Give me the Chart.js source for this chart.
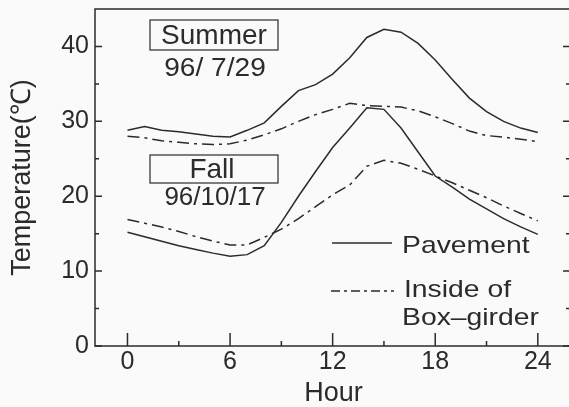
<!DOCTYPE html>
<html>
<head>
<meta charset="utf-8">
<script src="https://cdn.jsdelivr.net/npm/chart.js@4"></script>
<style>
  html, body { margin: 0; padding: 0; background: #fafafa; overflow: hidden; }
  canvas { display: block; }
</style>
</head>
<body>
<canvas id="temp-chart" width="575" height="407"></canvas>
<script>
// hourly readings, 0..24 h
const hours = [0,1,2,3,4,5,6,7,8,9,10,11,12,13,14,15,16,17,18,19,20,21,22,23,24];
const summerPavement = [28.8,29.3,28.8,28.6,28.3,28.0,27.9,28.8,29.8,32.0,34.1,34.9,36.3,38.5,41.2,42.3,41.9,40.4,38.2,35.6,33.1,31.3,30.0,29.1,28.5];
const summerGirder = [28.0,27.8,27.4,27.2,27.0,26.9,27.0,27.5,28.2,29.0,30.0,30.9,31.6,32.4,32.1,32.0,31.9,31.4,30.6,29.7,28.7,28.1,27.9,27.6,27.3];
const fallPavement = [15.2,14.6,14.0,13.4,12.9,12.4,12.0,12.2,13.4,16.5,20.0,23.3,26.5,29.1,31.8,31.6,29.1,25.9,22.7,21.2,19.6,18.3,17.0,15.9,14.9];
const fallGirder = [16.9,16.4,15.9,15.3,14.6,14.0,13.5,13.5,14.5,15.6,17.0,18.6,20.2,21.5,24.0,24.8,24.4,23.6,22.7,21.8,20.8,19.8,18.7,17.7,16.7];

const xTicks = [0,3,6,9,12,15,18,21,24];
const xLabels = [0,6,12,18,24];
const yTicks = [0,5,10,15,20,25,30,35,40];
const yLabels = [0,10,20,30,40];

const ink = '#2b2b2b';
const fontFam = '"Liberation Sans", Arial, Helvetica, sans-serif';
const girderDash = [12,5,3,5];

const pts = arr => hours.map((h, i) => ({x: h, y: arr[i]}));

// the scanned text is a little wider than it is tall
function wideText(ctx, txt, x, y, sx) {
  ctx.save();
  ctx.translate(x, y);
  ctx.scale(sx, 1);
  ctx.fillText(txt, 0, 0);
  ctx.restore();
}

const frame = {
  id: 'frame',
  afterDraw(chart) {
    const {ctx, chartArea: a, scales: {x, y}} = chart;
    ctx.save();
    ctx.strokeStyle = ink;
    ctx.lineWidth = 1.5;
    ctx.strokeRect(a.left, a.top, a.right - a.left, a.bottom - a.top);
    // inward ticks
    ctx.beginPath();
    xTicks.forEach(v => {
      const px = x.getPixelForValue(v);
      const len = xLabels.includes(v) ? 13 : 5;
      ctx.moveTo(px, a.bottom); ctx.lineTo(px, a.bottom - len);
    });
    yTicks.forEach(v => {
      const py = y.getPixelForValue(v);
      const len = yLabels.includes(v) ? 7 : 4;
      ctx.moveTo(a.left, py); ctx.lineTo(a.left + len, py);
      ctx.moveTo(a.right, py); ctx.lineTo(a.right - len - 2, py);
    });
    ctx.stroke();

    // labels inside the plot
    ctx.fillStyle = ink;
    ctx.lineWidth = 1.2;
    ctx.textAlign = 'center';
    ctx.textBaseline = 'middle';
    ctx.strokeRect(150, 20, 128, 30);
    ctx.strokeRect(150, 155, 128, 28);
    ctx.font = '28px ' + fontFam;
    ctx.fillText('Summer', 214, 36);
    ctx.fillText('Fall', 212, 170);
    ctx.font = '26px ' + fontFam;
    wideText(ctx, '96/ 7/29', 215, 69, 1.08);
    ctx.fillText('96/10/17', 215, 198);

    // legend
    ctx.lineWidth = 1.5;
    ctx.beginPath();
    ctx.moveTo(332, 243); ctx.lineTo(392, 243);
    ctx.stroke();
    ctx.setLineDash([9,4,3,4]);
    ctx.beginPath();
    ctx.moveTo(331, 291); ctx.lineTo(394, 291);
    ctx.stroke();
    ctx.setLineDash([]);
    ctx.textAlign = 'left';
    ctx.font = '24px ' + fontFam;
    wideText(ctx, 'Pavement', 402, 246, 1.18);
    wideText(ctx, 'Inside of', 404, 290, 1.18);
    wideText(ctx, 'Box\u2013girder', 402, 318, 1.18);
    ctx.restore();
  }
};

const lineStyle = {borderColor: ink, borderWidth: 1.5, pointRadius: 0, tension: 0, fill: false};

new Chart(document.getElementById('temp-chart'), {
  type: 'line',
  data: {
    datasets: [
      {label: 'Summer pavement', data: pts(summerPavement), ...lineStyle},
      {label: 'Summer girder', data: pts(summerGirder), ...lineStyle, borderDash: girderDash},
      {label: 'Fall pavement', data: pts(fallPavement), ...lineStyle},
      {label: 'Fall girder', data: pts(fallGirder), ...lineStyle, borderDash: girderDash}
    ]
  },
  options: {
    responsive: false,
    animation: false,
    layout: {padding: {top: 9, right: 3, left: 0, bottom: 0}},
    plugins: {legend: {display: false}, tooltip: {enabled: false}},
    scales: {
      x: {
        type: 'linear', min: -1.9, max: 26,
        afterBuildTicks: s => { s.ticks = xTicks.map(v => ({value: v})); },
        afterFit: s => { s.height = 61; s.paddingLeft = 0; s.paddingRight = 0; },
        grid: {display: false, drawTicks: false},
        border: {display: false},
        ticks: {
          padding: 4, color: ink, maxRotation: 0, autoSkip: false,
          font: {family: fontFam, size: 25, lineHeight: 1},
          callback: v => xLabels.includes(v) ? String(v) : ''
        },
        title: {display: true, text: 'Hour', color: ink, padding: {top: 0, bottom: 0},
                font: {family: fontFam, size: 27, lineHeight: 1}}
      },
      y: {
        min: 0, max: 45,
        afterBuildTicks: s => { s.ticks = yTicks.map(v => ({value: v})); },
        afterFit: s => { s.width = 95; s.paddingTop = 0; s.paddingBottom = 0; },
        grid: {display: false, drawTicks: false},
        border: {display: false},
        ticks: {
          padding: 6, color: ink, autoSkip: false,
          font: {family: fontFam, size: 25, lineHeight: 1},
          callback: v => yLabels.includes(v) ? String(v) : ''
        },
        title: {display: true, text: 'Temperature(\u2103)', color: ink, padding: {top: 9, bottom: 0},
                font: {family: fontFam, size: 27, lineHeight: 1}}
      }
    }
  },
  plugins: [frame]
});
</script>
</body>
</html>
